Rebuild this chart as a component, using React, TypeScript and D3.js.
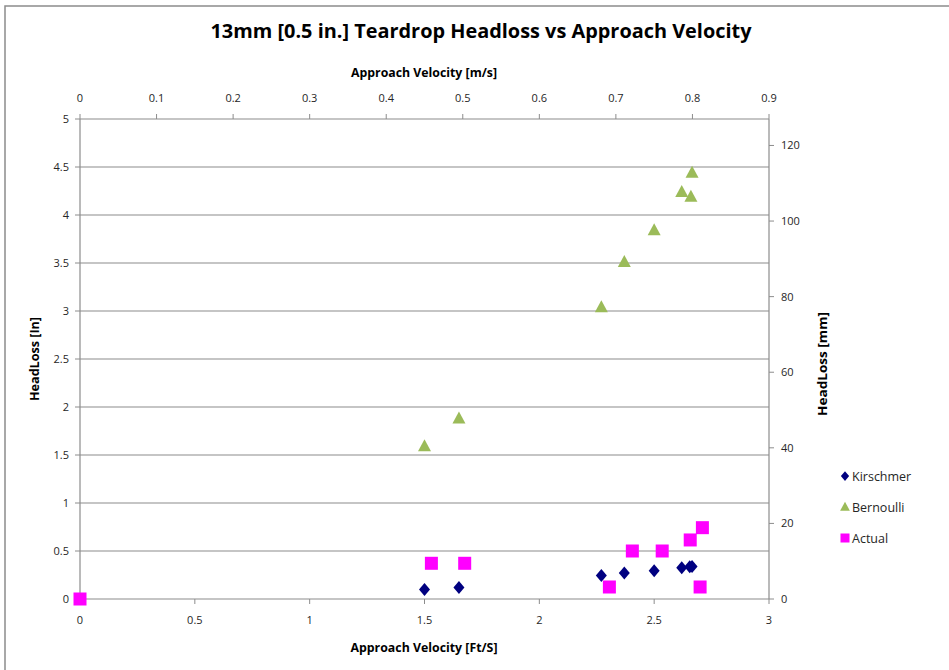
import React from "react";
import * as d3 from "d3";

// Approach velocity in ft/s and head loss in inches for each series
const kirschmerVelocity = [1.5, 1.65, 2.27, 2.37, 2.5, 2.62, 2.655, 2.665];
const kirschmerHeadloss = [0.1, 0.12, 0.245, 0.27, 0.295, 0.326, 0.335, 0.338];

const bernoulliVelocity = [1.5, 1.65, 2.27, 2.37, 2.5, 2.62, 2.66, 2.665];
const bernoulliHeadloss = [1.59, 1.88, 3.04, 3.51, 3.84, 4.24, 4.19, 4.44];

const actualVelocity = [0, 1.53, 1.675, 2.305, 2.405, 2.535, 2.657, 2.71, 2.7];
const actualHeadloss = [0, 0.372, 0.372, 0.125, 0.5, 0.5, 0.615, 0.743, 0.125];

const bottomTicks = [0, 0.5, 1, 1.5, 2, 2.5, 3];
const topTicks = [0, 0.1, 0.2, 0.3, 0.4, 0.5, 0.6, 0.7, 0.8, 0.9];
const leftTicks = [0, 0.5, 1, 1.5, 2, 2.5, 3, 3.5, 4, 4.5, 5];
const rightTicks = [0, 20, 40, 60, 80, 100, 120];

const seriesNames = ["Kirschmer", "Bernoulli", "Actual"];
const seriesColors = ["#000080", "#9BBB59", "#FF00FF"];

const W = 949;
const H = 670;
const plot = { left: 80, right: 769, top: 119, bottom: 599 };
const FONT = "'Open Sans', 'Liberation Sans', sans-serif";
const AXIS = "#8c8c8c";
const TEXT = "#262626";

export default function App() {
  const x = d3.scaleLinear().domain([0, 3]).range([plot.left, plot.right]);
  const xTop = d3.scaleLinear().domain([0, 0.9]).range([plot.left, plot.right]);
  const y = d3.scaleLinear().domain([0, 5]).range([plot.bottom, plot.top]);
  const yRight = d3.scaleLinear().domain([0, 5 * 25.4]).range([plot.bottom, plot.top]);

  const diamond = (cx: number, cy: number, key: string, fill: string, s = 1) => (
    <path
      key={key}
      d={`M${cx},${cy - 6.5 * s}L${cx + 5.5 * s},${cy}L${cx},${cy + 6.5 * s}L${cx - 5.5 * s},${cy}Z`}
      fill={fill}
    />
  );
  const triangle = (cx: number, cy: number, key: string, fill: string, s = 1) => (
    <path
      key={key}
      d={`M${cx},${cy - 7 * s}L${cx + 6.5 * s},${cy + 5 * s}L${cx - 6.5 * s},${cy + 5 * s}Z`}
      fill={fill}
    />
  );
  const square = (cx: number, cy: number, key: string, fill: string, s = 13) => (
    <rect key={key} x={cx - s / 2} y={cy - s / 2} width={s} height={s} fill={fill} />
  );

  const legendY = [476, 507, 538];

  return (
    <svg
      width={W}
      height={H}
      style={{ position: "absolute", left: 0, top: 0, background: "#fff" }}
      fontFamily={FONT}
    >
      {/* chart frame */}
      <rect x={5} y={6} width={W + 10} height={H + 10} fill="#fff" stroke={AXIS} strokeWidth={1.5} />

      <text
        x={481}
        y={38}
        textAnchor="middle"
        fontSize={20}
        fontWeight="bold"
        fill="#000"
        textLength={541}
        lengthAdjust="spacingAndGlyphs"
      >
        13mm [0.5 in.] Teardrop Headloss vs Approach Velocity
      </text>

      {/* horizontal gridlines */}
      {leftTicks.map((t) => (
        <line key={`g${t}`} x1={plot.left} x2={plot.right} y1={y(t)} y2={y(t)} stroke={AXIS} strokeWidth={1.2} />
      ))}

      {/* axis lines */}
      <line x1={plot.left} x2={plot.left} y1={plot.top} y2={plot.bottom} stroke={AXIS} strokeWidth={1.2} />
      <line x1={plot.right} x2={plot.right} y1={plot.top} y2={plot.bottom} stroke={AXIS} strokeWidth={1.2} />

      {/* left axis */}
      {leftTicks.map((t) => (
        <g key={`l${t}`}>
          <line x1={plot.left - 5} x2={plot.left} y1={y(t)} y2={y(t)} stroke={AXIS} />
          <text x={69} y={y(t) + 4} textAnchor="end" fontSize={11} fill={TEXT}>
            {t}
          </text>
        </g>
      ))}

      {/* right axis */}
      {rightTicks.map((t) => (
        <g key={`r${t}`}>
          <line x1={plot.right} x2={plot.right + 5} y1={yRight(t)} y2={yRight(t)} stroke={AXIS} />
          <text x={781} y={yRight(t) + 4} textAnchor="start" fontSize={11} fill={TEXT}>
            {t}
          </text>
        </g>
      ))}

      {/* bottom axis */}
      {bottomTicks.map((t) => (
        <g key={`b${t}`}>
          <line x1={x(t)} x2={x(t)} y1={plot.bottom} y2={plot.bottom + 5} stroke={AXIS} />
          <text x={x(t)} y={624} textAnchor="middle" fontSize={11} fill={TEXT}>
            {t}
          </text>
        </g>
      ))}

      {/* top axis */}
      {topTicks.map((t) => (
        <g key={`t${t}`}>
          <line x1={xTop(t)} x2={xTop(t)} y1={plot.top - 5} y2={plot.top} stroke={AXIS} />
          <text x={xTop(t)} y={102} textAnchor="middle" fontSize={11} fill={TEXT}>
            {t}
          </text>
        </g>
      ))}

      {/* axis titles */}
      <text x={424} y={77} textAnchor="middle" fontSize={12} fontWeight="bold" fill="#000" textLength={146} lengthAdjust="spacingAndGlyphs">
        Approach Velocity [m/s]
      </text>
      <text x={424} y={652} textAnchor="middle" fontSize={12} fontWeight="bold" fill="#000" textLength={147} lengthAdjust="spacingAndGlyphs">
        Approach Velocity [Ft/S]
      </text>
      <text
        transform={`translate(39,359) rotate(-90)`}
        textAnchor="middle"
        fontSize={12}
        fontWeight="bold"
        fill="#000"
        textLength={84}
        lengthAdjust="spacingAndGlyphs"
      >
        HeadLoss [In]
      </text>
      <text
        transform={`translate(827,364) rotate(-90)`}
        textAnchor="middle"
        fontSize={12}
        fontWeight="bold"
        fill="#000"
        textLength={104}
        lengthAdjust="spacingAndGlyphs"
      >
        HeadLoss [mm]
      </text>

      {/* data points */}
      {kirschmerVelocity.map((v, i) => diamond(x(v), y(kirschmerHeadloss[i]), `k${i}`, seriesColors[0]))}
      {bernoulliVelocity.map((v, i) => triangle(x(v), y(bernoulliHeadloss[i]), `b${i}`, seriesColors[1]))}
      {actualVelocity.map((v, i) => square(x(v), y(actualHeadloss[i]), `a${i}`, seriesColors[2]))}

      {/* legend */}
      {seriesNames.map((name, i) => (
        <g key={name}>
          {i === 0 && diamond(845, legendY[i], "ld", seriesColors[0], 0.75)}
          {i === 1 && triangle(845, legendY[i], "lt", seriesColors[1], 0.75)}
          {i === 2 && square(845, legendY[i], "ls", seriesColors[2], 9)}
          <text x={852} y={legendY[i] + 4.5} fontSize={12.5} fill={TEXT}>
            {name}
          </text>
        </g>
      ))}
    </svg>
  );
}
